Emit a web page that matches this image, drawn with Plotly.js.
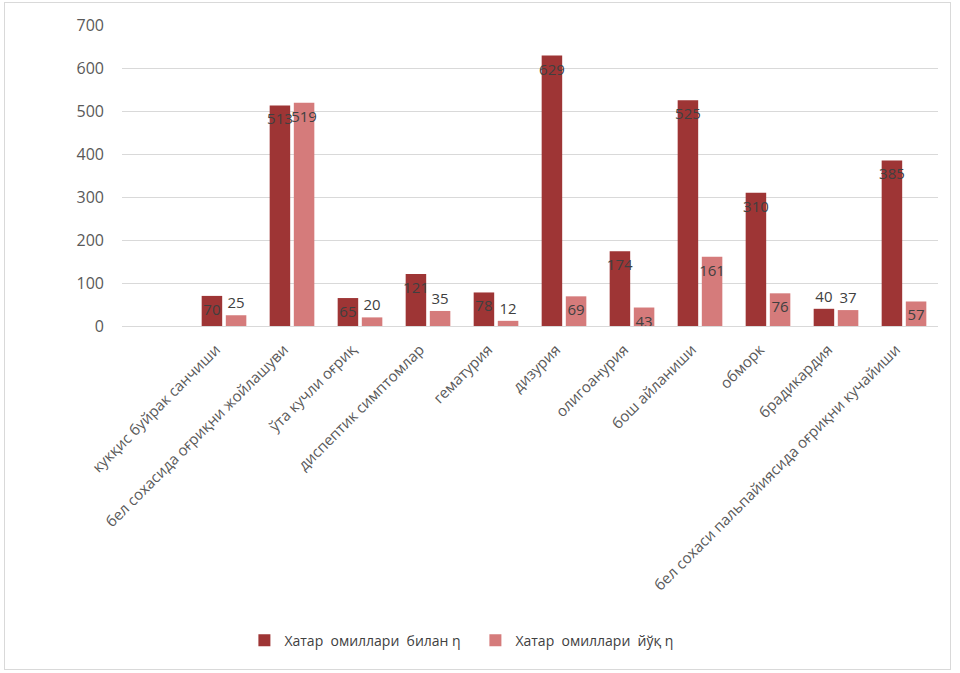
<!DOCTYPE html>
<html>
<head>
<meta charset="utf-8">
<script src="https://cdn.plot.ly/plotly-3.0.1.min.js"></script>
<style>
  body { margin: 0; background: #fff; }
  #chart { width: 960px; height: 673px; }
  #frame { position: absolute; left: 4px; top: 2px; width: 945px; height: 666px;
           border: 1px solid #d9d9d9; pointer-events: none; }
</style>
</head>
<body>
<div id="chart"></div>
<div id="frame"></div>
<script>
const categories = [
  'кукқис буйрак санчиши',
  'бел сохасида оғриқни жойлашуви',
  'ўта кучли оғриқ',
  'диспептик симптомлар',
  'гематурия',
  'дизурия',
  'олигоанурия',
  'бош айланиши',
  'обморк',
  'брадикардия',
  'бел сохаси пальпайиясида оғриқни кучайиши'
]
const withRisk = [70, 513, 65, 121, 78, 629, 174, 525, 310, 40, 385]
const withoutRisk = [25, 519, 20, 35, 12, 69, 43, 161, 76, 37, 57]
const seriesNames = ['Хатар\u00a0 омиллари\u00a0 билан η', 'Хатар\u00a0 омиллари\u00a0 йўқ η']

const FONT = 'Open Sans, Noto Sans, sans-serif'

// small bars get their label above the bar, as in the picture
function labelPos(vals) {
  return vals.map(v => v >= 42 ? 'inside' : 'outside')
}

function barTrace(vals, name, color) {
  return {
    type: 'bar',
    x: categories,
    y: vals,
    name: name,
    marker: { color: color },
    text: vals.map(String),
    textposition: labelPos(vals),
    insidetextanchor: 'end',
    textangle: 0,
    constraintext: 'none',
    cliponaxis: false,
    textfont: { family: FONT, size: 15, color: '#404040' },
    hoverinfo: 'x+y'
  }
}

const data = [
  barTrace(withRisk, seriesNames[0], '#9e3535'),
  barTrace(withoutRisk, seriesNames[1], '#d57b7b')
]

const layout = {
  width: 960,
  height: 673,
  margin: { l: 122, r: 22, t: 25, b: 347 },
  paper_bgcolor: '#ffffff',
  plot_bgcolor: '#ffffff',
  font: { family: FONT, color: '#595959' },
  barmode: 'group',
  bargap: 0.29,
  bargroupgap: 0.15,
  showlegend: true,
  legend: {
    orientation: 'h',
    x: 0.15, xanchor: 'left',
    y: -1.045, yanchor: 'middle',
    font: { family: FONT, size: 14, color: '#404040' },
    entrywidth: 186,
    entrywidthmode: 'pixels',
    traceorder: 'normal'
  },
  xaxis: {
    type: 'category',
    range: [-1.5, 10.5],
    tickangle: -45,
    tickfont: { family: FONT, size: 15, color: '#595959' },
    ticklabelstandoff: 8,
    ticklabelshift: -8,
    showgrid: false,
    showline: true,
    linecolor: '#d9d9d9',
    linewidth: 1,
    ticks: ''
  },
  yaxis: {
    range: [0, 700],
    dtick: 100,
    tickfont: { family: FONT, size: 16, color: '#595959' },
    ticklabelstandoff: 17,
    gridcolor: '#d9d9d9',
    gridwidth: 1,
    zeroline: false,
    showline: false,
    ticks: ''
  }
}

Plotly.newPlot('chart', data, layout, { displayModeBar: false, staticPlot: true })
</script>
</body>
</html>
